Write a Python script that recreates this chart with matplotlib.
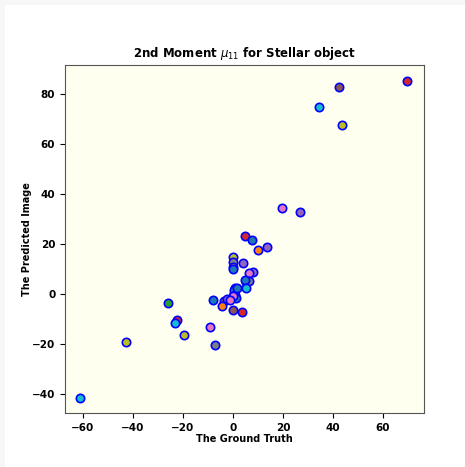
import matplotlib
matplotlib.use("Agg")
import matplotlib.pyplot as plt
from matplotlib.patches import Rectangle

truth = [69.7, 42.5, 34.5, 43.5, 19.5, 26.8, 4.8, 7.7, 10.1, 13.6,
         -0.1, 0.0, -0.1, 0.0, 3.9, 7.9, 6.5, 5.0, 6.5, 4.6,
         5.1, 0.7, 0.2, 0.5, 0.8, 1.0, 0.0, 1.5,
         -8.1, -3.5, -2.3, -1.3, -4.3, -0.1, 3.5,
         -26.1, -22.5, -23.2, -19.5, -9.3, -7.1, -42.9, -61.1]
pred = [85.2, 82.9, 74.8, 67.6, 34.4, 32.9, 23.3, 21.6, 17.5, 18.9,
        14.7, 13.0, 10.7, 10.0, 12.4, 8.9, 8.3, 4.8, 5.2, 5.8,
        2.3, 2.4, 0.5, 1.5, -0.5, -1.5, -0.8, 2.5,
        -2.4, -2.7, -2.0, -2.4, -4.8, -6.4, -7.1,
        -3.6, -10.3, -11.7, -16.4, -13.3, -20.4, -19.1, -41.5]
colors = ["tab:red", "tab:brown", "tab:cyan", "tab:olive", "tab:pink", "tab:purple",
          "tab:red", "tab:blue", "tab:orange", "tab:purple",
          "tab:olive", "tab:gray", "tab:orange", "tab:blue", "tab:purple", "tab:purple",
          "tab:pink", "tab:green", "tab:gray", "tab:blue",
          "tab:cyan", "tab:cyan", "tab:blue", "tab:blue", "tab:red", "tab:blue", "tab:pink",
          "tab:blue",
          "tab:blue", "tab:brown", "tab:purple", "tab:pink", "tab:orange", "tab:brown", "tab:red",
          "tab:green", "tab:red", "tab:cyan", "tab:olive", "tab:pink", "tab:gray",
          "tab:olive", "tab:cyan"]

fig = plt.figure(figsize=(4.65, 4.67), dpi=100)
fig.patch.set_facecolor("#f7f7f7")
bg = Rectangle((5 / 465, 0), 1, 1 - 5 / 467, transform=fig.transFigure,
               facecolor="white", edgecolor="none", zorder=-10)
fig.patches.append(bg)
ax = fig.add_axes([65 / 465, 1 - 413 / 467, (424 - 65) / 465, (413 - 65) / 467])
ax.set_facecolor("ivory")
for x, y, c in zip(truth, pred, colors):
    ax.scatter(x, y, s=36, c=c, edgecolors="blue", linewidths=1.2, zorder=3)

ax.set_xlim(-67.2, 76.4)
ax.set_ylim(-47.6, 91.6)
ax.set_xticks([-60, -40, -20, 0, 20, 40, 60])
ax.set_yticks([-40, -20, 0, 20, 40, 60, 80])
for lab in ax.get_xticklabels() + ax.get_yticklabels():
    lab.set_fontweight("bold")
    lab.set_fontsize(7.5)
ax.set_title(r"2nd Moment $\mu_{11}$ for Stellar object", fontsize=8.5, fontweight="bold")
ax.set_xlabel("The Ground Truth", fontsize=7, fontweight="bold", labelpad=1)
ax.set_ylabel("The Predicted Image", fontsize=7, fontweight="bold", labelpad=0)
for sp in ax.spines.values():
    sp.set_color("#555555")

fig.savefig("out.png", dpi=100)
